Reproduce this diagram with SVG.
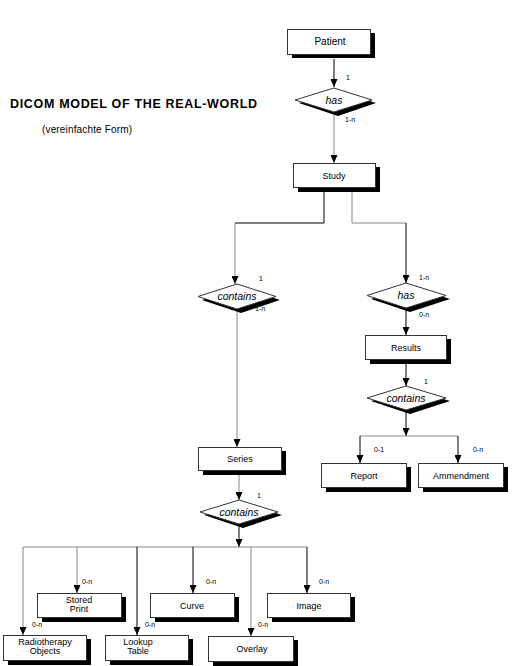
<svg xmlns="http://www.w3.org/2000/svg" width="521" height="666" viewBox="0 0 521 666">
<style>
.box{fill:#fff;stroke:#333;stroke-width:1}
.sh{fill:#000}
.lbl{font-family:"Liberation Sans",Arial,sans-serif;font-size:9px;text-anchor:middle;fill:#000}
.rel{font-family:"Liberation Sans",Arial,sans-serif;font-size:10.5px;font-style:italic;text-anchor:middle;fill:#000}
.card{font-family:"Liberation Sans",Arial,sans-serif;font-size:7px;fill:#000}
.dk{fill:none;stroke:#000;stroke-width:1}
.gy{fill:none;stroke:#888;stroke-width:1}
.ttl{font-family:"Liberation Sans",Arial,sans-serif;font-size:12.5px;font-weight:bold;fill:#000}
.sub{font-family:"Liberation Sans",Arial,sans-serif;font-size:10px;fill:#000}
</style>
<defs>
<marker id="ah" markerWidth="8" markerHeight="7" viewBox="0 0 8 7" refX="8" refY="3.5" orient="auto" markerUnits="userSpaceOnUse">
<path d="M0,0 L8,3.5 L0,7 z" fill="#000"/>
</marker>
</defs>
<rect width="521" height="666" fill="#fff"/>
<g id="title">
<text class="ttl" x="10" y="108" textLength="247" lengthAdjust="spacing">DICOM MODEL OF THE REAL-WORLD</text>
<text class="sub" x="42" y="133" textLength="90" lengthAdjust="spacing">(vereinfachte Form)</text>
</g>
<g id="connectors">
<path class="dk" d="M334,59 V87" marker-end="url(#ah)"/>
<path class="gy" d="M334,112 V163" marker-end="url(#ah)"/>
<path class="dk" d="M324,192 V223 H235"/>
<path class="gy" d="M235,223 V284" marker-end="url(#ah)"/>
<path class="gy" d="M352,192 V223 H406"/>
<path class="dk" d="M406,223 V283" marker-end="url(#ah)"/>
<path class="gy" d="M237,309 V447" marker-end="url(#ah)"/>
<path class="dk" d="M406,308 V335" marker-end="url(#ah)"/>
<path class="dk" d="M406,364 V386" marker-end="url(#ah)"/>
<path class="dk" d="M406,410 V436" marker-end="url(#ah)"/>
<path class="gy" d="M360,436 H458"/>
<path class="dk" d="M360,436 V463" marker-end="url(#ah)"/>
<path class="dk" d="M458,436 V463" marker-end="url(#ah)"/>
<path class="gy" d="M239,475 V500" marker-end="url(#ah)"/>
<path class="dk" d="M239,524 V547" marker-end="url(#ah)"/>
<path class="gy" d="M23,547 H307"/>
<path class="gy" d="M23,547 V635" marker-end="url(#ah)"/>
<path class="gy" d="M77,547 V593" marker-end="url(#ah)"/>
<path class="dk" d="M137,547 V635" marker-end="url(#ah)"/>
<path class="dk" d="M193,547 V593" marker-end="url(#ah)"/>
<path class="gy" d="M251,547 V636" marker-end="url(#ah)"/>
<path class="dk" d="M307,547 V593" marker-end="url(#ah)"/>
</g>
<g id="patient">
<rect class="sh" x="292" y="33" width="83" height="25"/>
<rect class="box" x="287.5" y="29.5" width="83" height="25"/>
<text class="lbl" x="330" y="45" style="font-size:10px">Patient</text>
</g>
<g id="has1">
<polygon class="sh" points="338,91 376,103 338,116 299,103"/>
<polygon class="box" points="334,88 372,100 334,112 295,100"/>
<text class="rel" x="334" y="104">has</text>
<text class="card" x="346" y="80">1</text>
<text class="card" x="345" y="122">1-n</text>
</g>
<g id="study">
<rect class="sh" x="298" y="167" width="82" height="25"/>
<rect class="box" x="293.5" y="163.5" width="82" height="24"/>
<text class="lbl" x="334" y="179">Study</text>
</g>
<g id="contains1">
<polygon class="sh" points="241,287 280,300 241,313 202,300"/>
<polygon class="box" points="237,284 276,296.5 237,309 198,296.5"/>
<text class="rel" x="237" y="300">contains</text>
<text class="card" x="259" y="281">1</text>
<text class="card" x="255" y="311">1-n</text>
</g>
<g id="has2">
<polygon class="sh" points="410,286 450,299 410,312 371,299"/>
<polygon class="box" points="406,283 446,295.5 406,308 367,295.5"/>
<text class="rel" x="406" y="299">has</text>
<text class="card" x="419" y="280">1-n</text>
<text class="card" x="419" y="317">0-n</text>
</g>
<g id="results">
<rect class="sh" x="370" y="339" width="81" height="25"/>
<rect class="box" x="365.5" y="335.5" width="81" height="24"/>
<text class="lbl" x="406" y="351">Results</text>
</g>
<g id="contains2">
<polygon class="sh" points="410,389 450,401 410,414 371,401"/>
<polygon class="box" points="406,386 446,398 406,410 367,398"/>
<text class="rel" x="406" y="402">contains</text>
<text class="card" x="424" y="384">1</text>
</g>
<g id="report">
<rect class="sh" x="326" y="467" width="85" height="25"/>
<rect class="box" x="321.5" y="463.5" width="85" height="24"/>
<text class="lbl" x="364" y="479">Report</text>
<text class="card" x="374" y="452">0-1</text>
</g>
<g id="ammendment">
<rect class="sh" x="423" y="467" width="85" height="25"/>
<rect class="box" x="418.5" y="463.5" width="85" height="24"/>
<text class="lbl" x="461" y="479">Ammendment</text>
<text class="card" x="473" y="452">0-n</text>
</g>
<g id="series">
<rect class="sh" x="203" y="451" width="83" height="24"/>
<rect class="box" x="198.5" y="447.5" width="83" height="23"/>
<text class="lbl" x="240" y="462">Series</text>
</g>
<g id="contains3">
<polygon class="sh" points="243,503 282,515 243,528 204,515"/>
<polygon class="box" points="239,500 278,512 239,524 200,512"/>
<text class="rel" x="239" y="516">contains</text>
<text class="card" x="257" y="498">1</text>
</g>
<g id="storedprint">
<rect class="sh" x="42" y="597" width="84" height="25"/>
<rect class="box" x="37.5" y="593.5" width="84" height="24"/>
<text class="lbl" x="79" y="603">Stored</text>
<text class="lbl" x="79" y="612">Print</text>
<text class="card" x="82" y="584">0-n</text>
</g>
<g id="curve">
<rect class="sh" x="155" y="597" width="84" height="25"/>
<rect class="box" x="150.5" y="593.5" width="84" height="24"/>
<text class="lbl" x="192" y="609">Curve</text>
<text class="card" x="206" y="584">0-n</text>
</g>
<g id="image">
<rect class="sh" x="272" y="597" width="83" height="25"/>
<rect class="box" x="267.5" y="593.5" width="83" height="24"/>
<text class="lbl" x="309" y="609">Image</text>
<text class="card" x="319" y="584">0-n</text>
</g>
<g id="radiotherapy">
<rect class="sh" x="8" y="639" width="83" height="26"/>
<rect class="box" x="3.5" y="635.5" width="83" height="25"/>
<text class="lbl" x="45" y="645">Radiotherapy</text>
<text class="lbl" x="45" y="654">Objects</text>
<text class="card" x="32" y="627">0-n</text>
</g>
<g id="lookup">
<rect class="sh" x="110" y="639" width="83" height="26"/>
<rect class="box" x="105.5" y="635.5" width="83" height="25"/>
<text class="lbl" x="138" y="645">Lookup</text>
<text class="lbl" x="138" y="654">Table</text>
<text class="card" x="145" y="627">0-n</text>
</g>
<g id="overlay">
<rect class="sh" x="213" y="640" width="85" height="26"/>
<rect class="box" x="208.5" y="636.5" width="85" height="25"/>
<text class="lbl" x="252" y="652">Overlay</text>
<text class="card" x="258" y="627">0-n</text>
</g>
</svg>
